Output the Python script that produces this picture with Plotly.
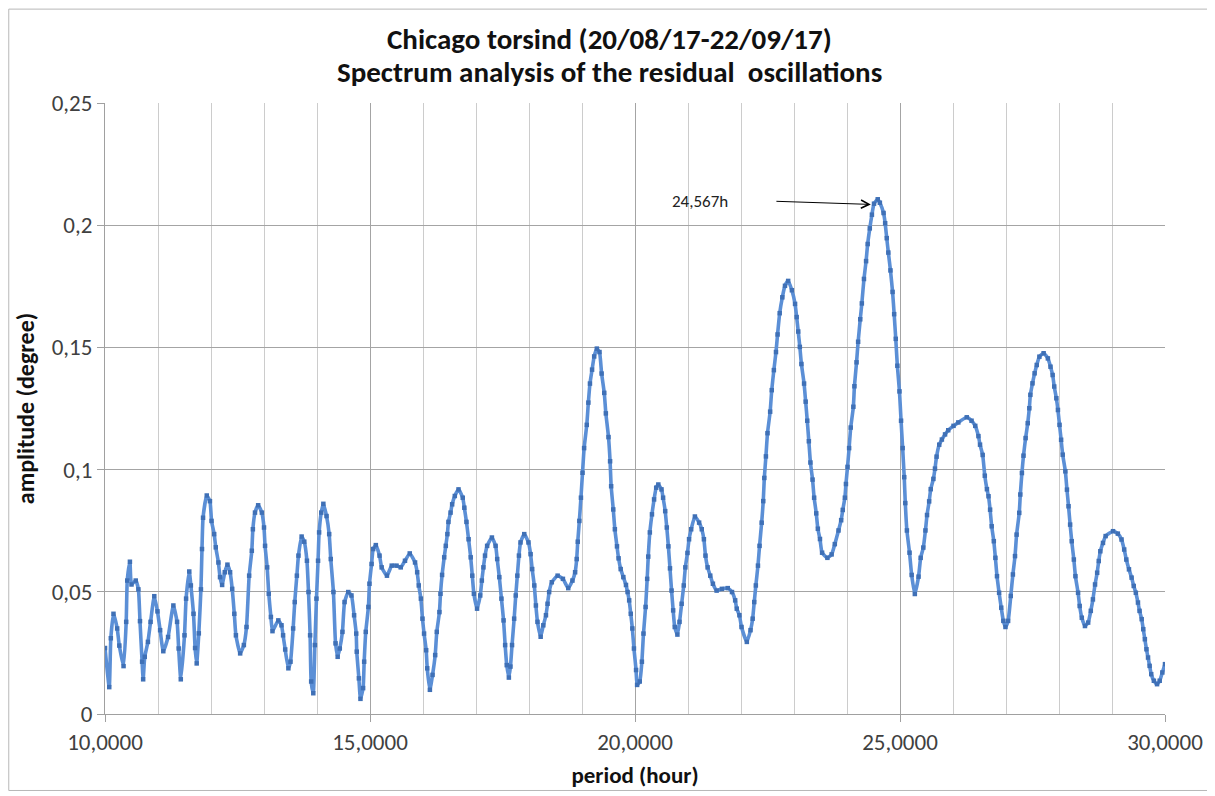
import plotly.graph_objects as go

seg_a = [(10.0, 0.027), (10.08, 0.011), (10.11, 0.031), (10.16, 0.041), (10.23, 0.035), (10.27, 0.028),
         (10.35, 0.0196), (10.40, 0.0377), (10.42, 0.0546), (10.47, 0.0623), (10.50, 0.053), (10.58, 0.0546),
         (10.63, 0.051), (10.66, 0.038), (10.70, 0.0214), (10.72, 0.0142), (10.75, 0.0234), (10.81, 0.0295),
         (10.86, 0.0377), (10.93, 0.0482), (10.99, 0.042), (11.04, 0.0343), (11.10, 0.0257), (11.19, 0.0315),
         (11.29, 0.0444), (11.36, 0.0377), (11.39, 0.0268), (11.43, 0.0142), (11.50, 0.0322), (11.53, 0.0472),
         (11.59, 0.0583), (11.62, 0.0526), (11.67, 0.041), (11.70, 0.027), (11.73, 0.0207), (11.77, 0.033),
         (11.81, 0.051), (11.83, 0.0675), (11.85, 0.0803), (11.92, 0.0894), (11.98, 0.0871), (12.01, 0.079),
         (12.06, 0.0736), (12.09, 0.0682), (12.14, 0.062), (12.17, 0.056), (12.21, 0.0528), (12.26, 0.058),
         (12.31, 0.0611), (12.36, 0.058), (12.40, 0.0512), (12.44, 0.041), (12.47, 0.0322), (12.55, 0.0248),
         (12.62, 0.0282), (12.67, 0.0356), (12.72, 0.0566), (12.77, 0.0668), (12.79, 0.0756), (12.83, 0.0824),
         (12.89, 0.0854), (12.96, 0.0824), (13.00, 0.0763), (13.02, 0.0688), (13.06, 0.06), (13.09, 0.0492),
         (13.13, 0.0397), (13.16, 0.0339), (13.27, 0.0383), (13.33, 0.0363), (13.36, 0.0322), (13.40, 0.0264),
         (13.46, 0.0187), (13.50, 0.0214), (13.55, 0.035), (13.58, 0.0458), (13.62, 0.0566), (13.65, 0.0648),
         (13.71, 0.0726), (13.76, 0.0705), (13.81, 0.0627), (13.84, 0.0499), (13.87, 0.0322), (13.89, 0.0133),
         (13.93, 0.0085), (13.96, 0.0282), (13.99, 0.0472), (14.02, 0.0627), (14.04, 0.0743), (14.08, 0.0824),
         (14.12, 0.0860), (14.18, 0.081), (14.23, 0.0736), (14.26, 0.0634), (14.31, 0.0499), (14.35, 0.0289)]

seg_b = [(14.39, 0.0234), (14.43, 0.0268), (14.48, 0.0336), (14.52, 0.0458), (14.59, 0.0499), (14.65, 0.0485),
         (14.70, 0.0404), (14.74, 0.0329), (14.75, 0.0255), (14.79, 0.0146), (14.82, 0.0062), (14.87, 0.0106),
         (14.89, 0.0214), (14.92, 0.0336), (14.97, 0.0438), (14.99, 0.0533), (15.03, 0.0614), (15.06, 0.0675),
         (15.11, 0.0691), (15.18, 0.0648), (15.22, 0.06), (15.32, 0.0566), (15.41, 0.0607), (15.50, 0.0607),
         (15.58, 0.06), (15.66, 0.0627), (15.75, 0.0657), (15.85, 0.062), (15.89, 0.058), (15.92, 0.0526),
         (15.96, 0.0472), (15.99, 0.039), (16.02, 0.0329), (16.06, 0.0261), (16.08, 0.0187), (16.13, 0.0099),
         (16.18, 0.016), (16.23, 0.0241), (16.26, 0.0336), (16.31, 0.0417), (16.33, 0.0492), (16.36, 0.0569),
         (16.40, 0.0641), (16.43, 0.0688), (16.46, 0.0736), (16.48, 0.0786), (16.52, 0.0824), (16.55, 0.0858),
         (16.60, 0.0892), (16.67, 0.0919), (16.75, 0.0885), (16.78, 0.0844), (16.82, 0.0786), (16.86, 0.0715),
         (16.90, 0.0641), (16.93, 0.0566), (16.96, 0.0492), (17.02, 0.0431), (17.08, 0.0485), (17.11, 0.0546),
         (17.14, 0.06), (17.17, 0.0648), (17.21, 0.0688), (17.30, 0.0722), (17.37, 0.0688), (17.40, 0.0634),
         (17.44, 0.056), (17.48, 0.0472), (17.52, 0.0383), (17.55, 0.0282), (17.58, 0.02), (17.62, 0.0149),
         (17.65, 0.0194), (17.68, 0.0282), (17.72, 0.039), (17.75, 0.0485), (17.78, 0.0566), (17.81, 0.0648),
         (17.84, 0.0702), (17.91, 0.0736), (17.99, 0.0702), (18.03, 0.0654), (18.06, 0.0593), (18.10, 0.0526),
         (18.13, 0.0444), (18.16, 0.0377), (18.22, 0.0316), (18.27, 0.0363), (18.32, 0.0404), (18.35, 0.0451),
         (18.38, 0.0499), (18.43, 0.0539), (18.54, 0.0566), (18.64, 0.0553)]

seg_c = [(18.74, 0.0515), (18.82, 0.0546), (18.87, 0.058), (18.90, 0.0634), (18.92, 0.0705), (18.95, 0.079),
         (18.98, 0.0885), (19.01, 0.0987), (19.04, 0.1088), (19.09, 0.1183), (19.12, 0.1274), (19.15, 0.1352),
         (19.19, 0.1409), (19.23, 0.1463), (19.28, 0.1495), (19.33, 0.1481), (19.37, 0.1393), (19.42, 0.1314),
         (19.45, 0.123), (19.50, 0.1133), (19.53, 0.1034), (19.55, 0.0932), (19.59, 0.0837), (19.62, 0.0756),
         (19.66, 0.0686), (19.69, 0.0637), (19.73, 0.0593), (19.78, 0.056), (19.83, 0.0528), (19.86, 0.0499),
         (19.89, 0.0465), (19.92, 0.041), (19.95, 0.035), (19.98, 0.0268), (20.02, 0.018), (20.04, 0.0119),
         (20.09, 0.0133), (20.13, 0.0214), (20.16, 0.0329), (20.20, 0.0438), (20.23, 0.0553), (20.25, 0.0644),
         (20.28, 0.0743), (20.32, 0.0817), (20.36, 0.0878), (20.40, 0.0926), (20.44, 0.0939), (20.50, 0.0919),
         (20.53, 0.0885), (20.57, 0.083), (20.60, 0.0763), (20.63, 0.0686), (20.66, 0.0596), (20.69, 0.0505),
         (20.72, 0.0424), (20.75, 0.0356), (20.80, 0.0325), (20.84, 0.0377), (20.88, 0.0451), (20.92, 0.0526),
         (20.95, 0.06), (20.99, 0.0659), (21.02, 0.0715), (21.06, 0.0756), (21.13, 0.0808), (21.21, 0.0783),
         (21.26, 0.0756), (21.30, 0.0715), (21.33, 0.0648), (21.37, 0.06), (21.42, 0.0566), (21.47, 0.0533),
         (21.54, 0.0505), (21.64, 0.0512), (21.75, 0.0515), (21.83, 0.0499), (21.89, 0.0465), (21.92, 0.0431),
         (21.97, 0.0404), (22.01, 0.0356), (22.11, 0.0295), (22.18, 0.0343), (22.22, 0.039), (22.25, 0.0458),
         (22.28, 0.0526), (22.32, 0.0607), (22.35, 0.0688), (22.39, 0.0783), (22.42, 0.0871), (22.44, 0.0966),
         (22.47, 0.1054), (22.50, 0.1149), (22.55, 0.1237), (22.58, 0.1325), (22.62, 0.1407), (22.66, 0.1481),
         (22.69, 0.1553), (22.73, 0.164), (22.78, 0.1705), (22.83, 0.1752)]

seg_d = [(22.89, 0.1772), (22.96, 0.1734), (23.02, 0.1678), (23.05, 0.1624), (23.08, 0.1565), (23.11, 0.1502),
         (23.14, 0.1432), (23.19, 0.1352), (23.22, 0.1278), (23.25, 0.12), (23.28, 0.1116), (23.31, 0.1029),
         (23.35, 0.0959), (23.38, 0.0885), (23.42, 0.0821), (23.45, 0.0758), (23.49, 0.0716), (23.53, 0.066),
         (23.63, 0.0639), (23.71, 0.0653), (23.77, 0.0695), (23.84, 0.0751), (23.89, 0.0793), (23.92, 0.0835),
         (23.96, 0.0885), (23.98, 0.0941), (24.01, 0.1011), (24.04, 0.1088), (24.07, 0.1172), (24.12, 0.1257),
         (24.14, 0.1341), (24.18, 0.1439), (24.21, 0.1523), (24.25, 0.1615), (24.28, 0.168), (24.32, 0.178),
         (24.36, 0.1853), (24.39, 0.1923), (24.43, 0.1987), (24.47, 0.2043), (24.51, 0.2088), (24.58, 0.2106),
         (24.62, 0.2092), (24.69, 0.205), (24.72, 0.2008), (24.75, 0.1947), (24.78, 0.1888), (24.82, 0.1815),
         (24.86, 0.1727), (24.89, 0.1636), (24.92, 0.1535), (24.95, 0.1425), (24.99, 0.132), (25.02, 0.12),
         (25.05, 0.1088), (25.08, 0.0969), (25.10, 0.0863), (25.13, 0.0751), (25.18, 0.066), (25.22, 0.0569),
         (25.28, 0.0491), (25.35, 0.0562), (25.39, 0.0639), (25.44, 0.0681), (25.48, 0.0751), (25.51, 0.0814),
         (25.55, 0.087), (25.58, 0.092), (25.63, 0.0962), (25.66, 0.1004), (25.69, 0.1053), (25.74, 0.1102),
         (25.79, 0.1123), (25.85, 0.1144), (25.91, 0.1161), (26.01, 0.1179), (26.10, 0.1193), (26.26, 0.1214),
         (26.35, 0.12), (26.42, 0.1179), (26.48, 0.1137), (26.51, 0.1102), (26.56, 0.106)]

seg_e = [(26.60, 0.0975), (26.64, 0.092), (26.67, 0.0891), (26.70, 0.0836), (26.73, 0.0768), (26.77, 0.0707),
         (26.80, 0.0639), (26.83, 0.0564), (26.87, 0.0496), (26.91, 0.0435), (26.95, 0.0381), (26.99, 0.0356),
         (27.04, 0.0381), (27.09, 0.0483), (27.13, 0.0571), (27.17, 0.0646), (27.20, 0.0734), (27.25, 0.0823),
         (27.27, 0.0898), (27.30, 0.0986), (27.33, 0.1057), (27.37, 0.1129), (27.41, 0.119), (27.44, 0.1251),
         (27.46, 0.1306), (27.50, 0.1353), (27.54, 0.1394), (27.58, 0.1428), (27.63, 0.1462), (27.71, 0.1476),
         (27.79, 0.1455), (27.84, 0.1421), (27.88, 0.1387), (27.91, 0.134), (27.95, 0.1292), (27.98, 0.1244),
         (28.01, 0.1183), (28.04, 0.1122), (28.07, 0.1061), (28.12, 0.0993), (28.15, 0.0918), (28.18, 0.085),
         (28.21, 0.0775), (28.24, 0.0707), (28.28, 0.0632), (28.31, 0.0564), (28.36, 0.0496), (28.39, 0.0442),
         (28.43, 0.0394), (28.49, 0.036), (28.55, 0.0374), (28.60, 0.0422), (28.64, 0.0469), (28.68, 0.053),
         (28.72, 0.0578), (28.75, 0.0626), (28.78, 0.0666), (28.83, 0.07), (28.88, 0.0728), (29.02, 0.0748),
         (29.11, 0.0738), (29.18, 0.0714), (29.23, 0.0673), (29.27, 0.0632), (29.32, 0.0592), (29.37, 0.0558),
         (29.41, 0.0524), (29.45, 0.0496), (29.49, 0.0456), (29.52, 0.0422), (29.56, 0.0388), (29.59, 0.0347),
         (29.62, 0.0306), (29.65, 0.0265), (29.68, 0.0231), (29.71, 0.0197), (29.74, 0.0163), (29.79, 0.0136),
         (29.85, 0.0122), (29.90, 0.0136), (29.95, 0.017), (30.0, 0.0204)]

x_tick_vals = [10, 15, 20, 25, 30]
x_tick_text = ["10,0000", "15,0000", "20,0000", "25,0000", "30,0000"]
y_tick_vals = [0, 0.05, 0.1, 0.15, 0.2, 0.25]
y_tick_text = ["0", "0,05", "0,1", "0,15", "0,2", "0,25"]

title_lines = ["Chicago torsind (20/08/17-22/09/17)", "Spectrum analysis of the residual  oscillations"]
peak_label = "24,567h"
peak_x, peak_y = 24.45, 0.2085
label_x, label_y = 22.64, 0.2098
text_x = 21.23

points = seg_a + seg_b + seg_c + seg_d + seg_e
xs = [p[0] for p in points]
ys = [p[1] for p in points]

FONT = "Carlito, Lato, 'Open Sans', sans-serif"
W, H = 1207, 788
T, B = 95, 78
PH = H - T - B  # plot height in px

fig = go.Figure()
fig.add_trace(go.Scatter(
    x=xs, y=ys, mode="lines+markers",
    line=dict(color="#5b8fd6", width=3.6, shape="spline", smoothing=0.5),
    marker=dict(symbol="square", size=4.5, color="#3f70b6"),
    showlegend=False, hoverinfo="x+y",
))

fig.add_annotation(x=peak_x, y=peak_y, ax=label_x, ay=label_y, axref="x", ayref="y",
                   xref="x", yref="y", text="", showarrow=True, arrowhead=5,
                   arrowsize=1.6, arrowwidth=1, arrowcolor="#000000")
fig.add_annotation(x=text_x, y=label_y, xref="x", yref="y", text=peak_label, showarrow=False,
                   font=dict(family=FONT, size=17, color="#222222"))

# two-line chart title (line centres at 32 px and 65 px from the top of the figure)
for line_text, y_pix in zip(title_lines, [31, 64]):
    fig.add_annotation(x=0.4755, y=(H - B - y_pix) / PH, xref="paper", yref="paper",
                       text="<b>" + line_text + "</b>", showarrow=False,
                       xanchor="center", yanchor="middle",
                       font=dict(family=FONT, size=29, color="#111111"))

# outer frame
fig.add_shape(type="rect", xref="paper", yref="paper", x0=-0.0908, x1=1.0433,
              y0=-(B - 1) / PH, y1=(H - B - 0.5) / PH,
              line=dict(color="#b8b8b8", width=1), fillcolor="rgba(0,0,0,0)", layer="below")

fig.update_layout(
    width=W, height=H,
    margin=dict(l=97, r=48, t=T, b=B),
    paper_bgcolor="white", plot_bgcolor="white",
    font=dict(family=FONT),
)
fig.update_xaxes(
    range=[10, 30], tickvals=x_tick_vals, ticktext=x_tick_text,
    showgrid=True, gridcolor="#a4a4a4", gridwidth=1,
    minor=dict(dtick=1, tick0=10, showgrid=True, gridcolor="#cccccc", gridwidth=1),
    ticks="outside", ticklen=7, tickcolor="#a0a0a0",
    showline=True, linecolor="#a0a0a0", linewidth=1, zeroline=False,
    tickfont=dict(family=FONT, size=23, color="#404040"),
    title=dict(text="<b>period (hour)</b>", font=dict(family=FONT, size=23, color="#111111"), standoff=12),
)
fig.update_yaxes(
    range=[0, 0.25], tickvals=y_tick_vals, ticktext=y_tick_text,
    showgrid=True, gridcolor="#a4a4a4", gridwidth=1,
    ticks="outside", ticklen=7, tickcolor="#a0a0a0",
    showline=True, linecolor="#a0a0a0", linewidth=1, zeroline=False,
    tickfont=dict(family=FONT, size=23, color="#404040"),
    title=dict(text="<b>amplitude (degree)</b>", font=dict(family=FONT, size=24, color="#111111"), standoff=10),
)

fig.write_html("out.html")
